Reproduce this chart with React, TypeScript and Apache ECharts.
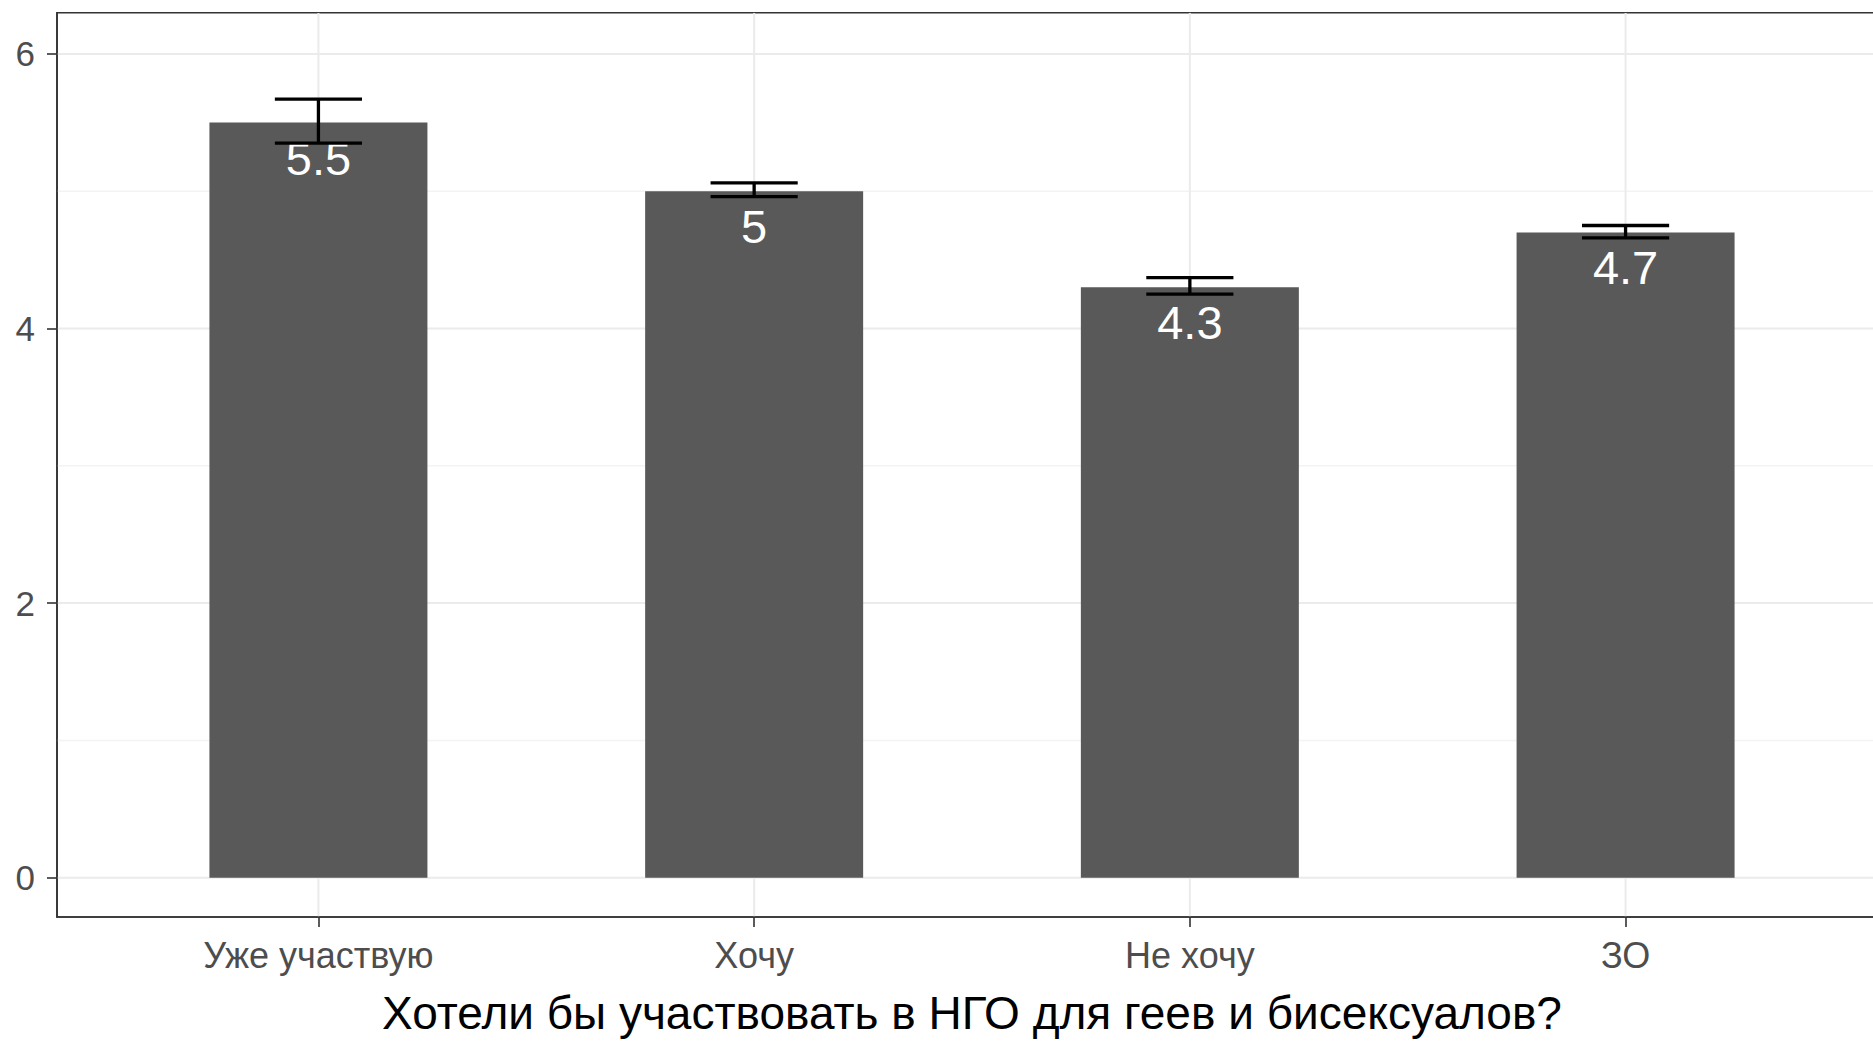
import React, { useEffect, useRef } from "react";
import * as echarts from "echarts";

const categories = ["Уже участвую", "Хочу", "Не хочу", "ЗО"];
const positions = [1, 2, 3, 4];
const means = [5.5, 5.0, 4.3, 4.7];
const lower = [5.35, 4.96, 4.25, 4.66];
const upper = [5.67, 5.06, 4.37, 4.75];
const yTicks = [0, 2, 4, 6];
const yMinor = [1, 3, 5];
const axisTitle = "Хотели бы участвовать в НГО для геев и бисексуалов?";

const FONT = "'Liberation Sans', Arial, sans-serif";

function gridLines(values: number[], horizontal: boolean, color: string, width: number) {
  return {
    type: "custom",
    silent: true,
    z: 0,
    clip: true,
    data: values.map((v) => (horizontal ? [1, v] : [v, 0])),
    renderItem: (params: any, api: any) => {
      const cs = params.coordSys;
      if (horizontal) {
        const y = api.coord([1, api.value(1)])[1];
        return {
          type: "line",
          shape: { x1: cs.x, y1: y, x2: cs.x + cs.width, y2: y },
          style: { stroke: color, lineWidth: width },
        };
      }
      const x = api.coord([api.value(0), 0])[0];
      return {
        type: "line",
        shape: { x1: x, y1: cs.y, x2: x, y2: cs.y + cs.height },
        style: { stroke: color, lineWidth: width },
      };
    },
  };
}

export default function App() {
  const ref = useRef<HTMLDivElement>(null);
  useEffect(() => {
    if (!ref.current) return;
    const chart = echarts.init(ref.current, undefined, { renderer: "svg" });
    const option: any = {
      animation: false,
      backgroundColor: "#ffffff",
      grid: {
        left: 57,
        top: 12.7,
        width: 1830,
        height: 908.3,
        show: true,
        borderColor: "#333333",
        borderWidth: 1.6,
        backgroundColor: "#ffffff",
      },
      xAxis: {
        type: "value",
        min: 0.4,
        max: 4.6,
        axisLine: { show: true, onZero: false, lineStyle: { color: "#333333", width: 1.6 } },
        axisTick: {
          show: true,
          customValues: positions,
          length: 10,
          lineStyle: { color: "#333333", width: 1.6 },
        },
        axisLabel: {
          customValues: positions,
          formatter: (v: number) => categories[positions.indexOf(v)] ?? "",
          color: "#4d4d4d",
          fontSize: 36,
          fontFamily: FONT,
          margin: 20,
        },
        splitLine: { show: false },
        name: axisTitle,
        nameLocation: "middle",
        nameGap: 73,
        nameTextStyle: { color: "#000000", fontSize: 46, fontFamily: FONT },
      },
      yAxis: {
        type: "value",
        min: -0.286,
        max: 6.3,
        axisLine: { show: true, onZero: false, lineStyle: { color: "#333333", width: 1.6 } },
        axisTick: {
          show: true,
          customValues: yTicks,
          length: 10,
          lineStyle: { color: "#333333", width: 1.6 },
        },
        axisLabel: {
          customValues: yTicks,
          color: "#4d4d4d",
          fontSize: 35,
          fontFamily: FONT,
          margin: 22,
        },
        splitLine: { show: false },
      },
      series: [
        gridLines(yMinor, true, "#f3f3f3", 1.5),
        gridLines(yTicks, true, "#ebebeb", 2),
        gridLines(positions, false, "#ebebeb", 2),
        {
          type: "bar",
          z: 2,
          barWidth: 218,
          data: positions.map((x, i) => [x, means[i]]),
          itemStyle: { color: "#595959" },
          label: {
            show: true,
            position: "insideTop",
            distance: 12,
            color: "#ffffff",
            fontSize: 47,
            fontFamily: FONT,
            formatter: (p: any) => String(p.value[1]),
          },
        },
        {
          type: "custom",
          z: 3,
          silent: true,
          data: positions.map((x, i) => [x, lower[i], upper[i]]),
          encode: { x: 0, y: [1, 2] },
          renderItem: (params: any, api: any) => {
            const x = api.value(0);
            const lo = api.coord([x, api.value(1)]);
            const hi = api.coord([x, api.value(2)]);
            const half = api.coord([x + 0.1, 0])[0] - api.coord([x, 0])[0];
            const style = { stroke: "#000000", lineWidth: 3.3 };
            return {
              type: "group",
              children: [
                { type: "line", shape: { x1: lo[0], y1: lo[1], x2: hi[0], y2: hi[1] }, style },
                { type: "line", shape: { x1: hi[0] - half, y1: hi[1], x2: hi[0] + half, y2: hi[1] }, style },
                { type: "line", shape: { x1: lo[0] - half, y1: lo[1], x2: lo[0] + half, y2: lo[1] }, style },
              ],
            };
          },
        },
      ],
    };
    chart.setOption(option);
    return () => chart.dispose();
  }, []);
  return (
    <div
      style={{
        position: "fixed",
        left: 0,
        top: 0,
        width: 1873,
        height: 1041,
        overflow: "hidden",
        background: "#ffffff",
      }}
    >
      <div ref={ref} style={{ width: 1900, height: 1041 }} />
    </div>
  );
}
